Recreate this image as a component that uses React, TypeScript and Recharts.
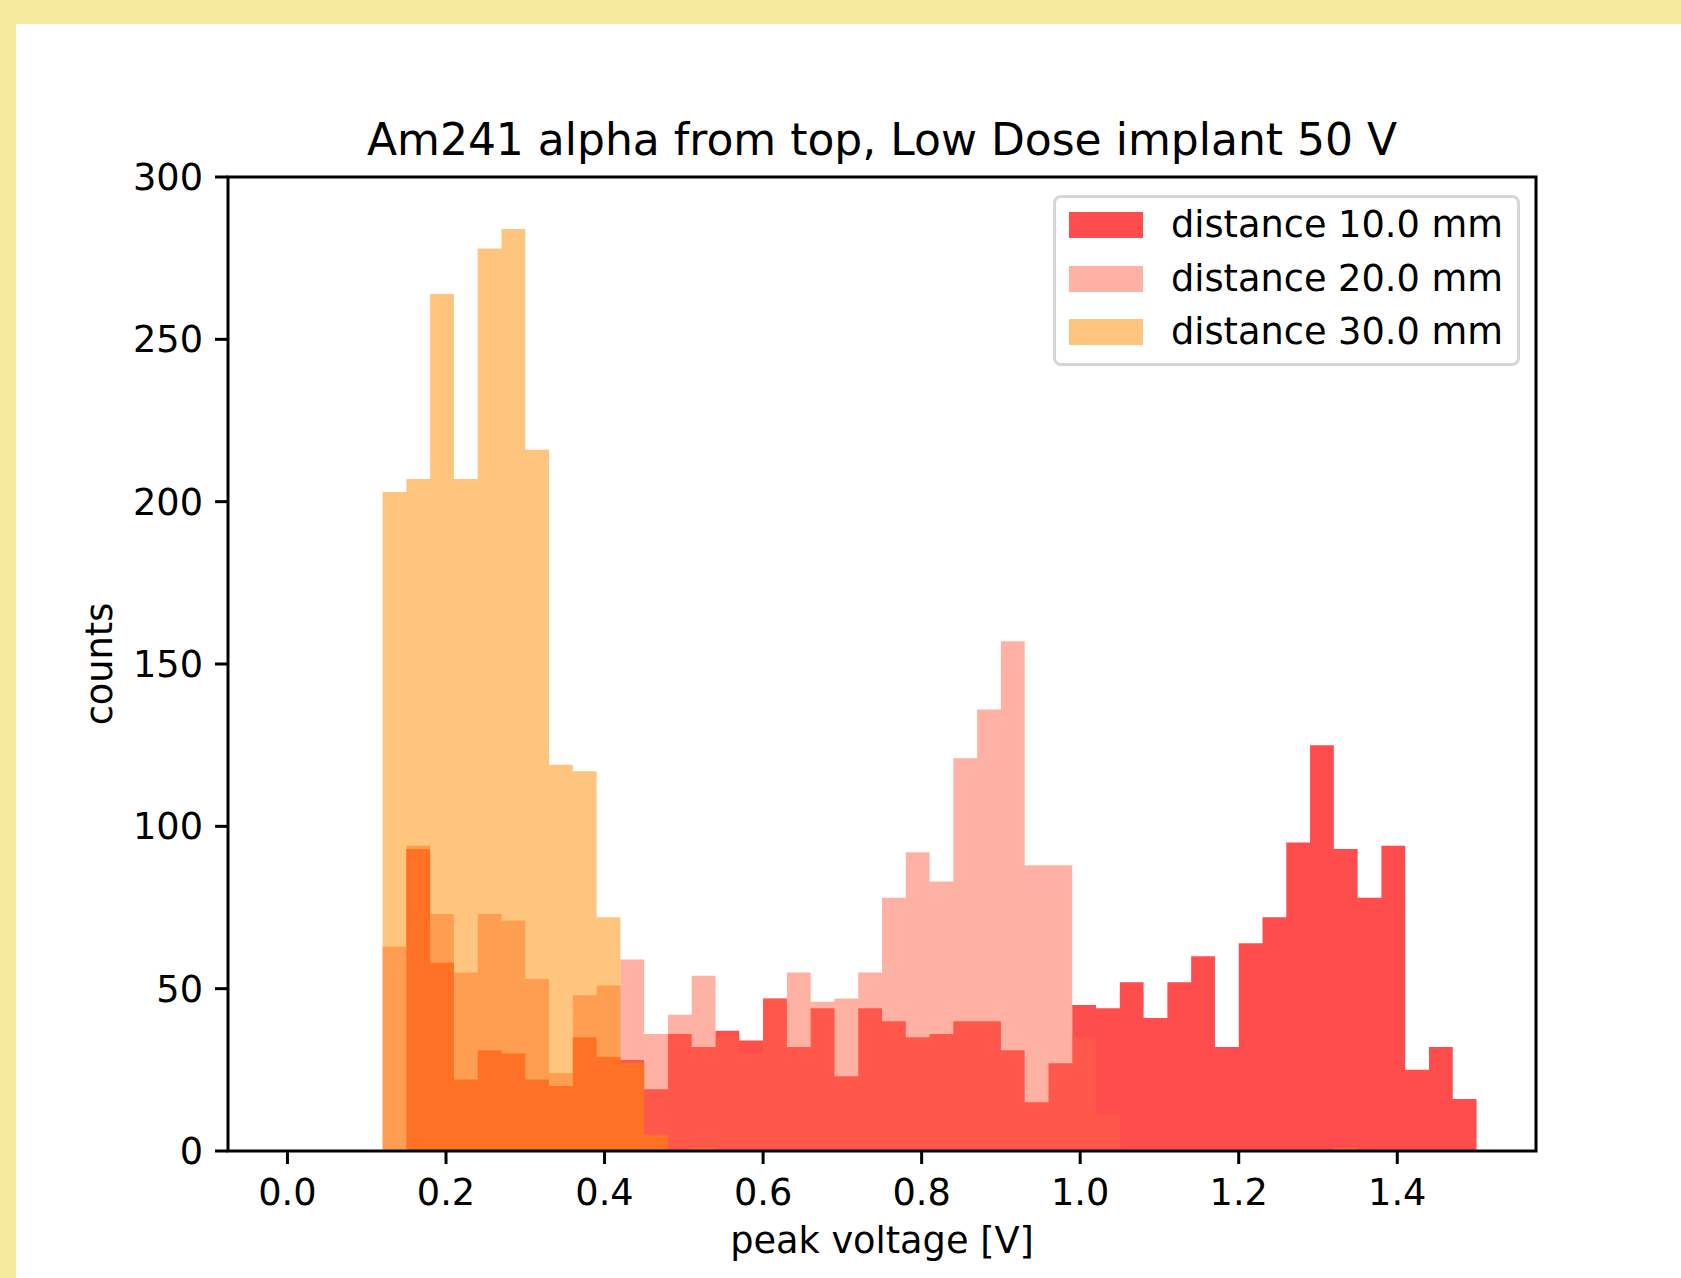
import { AreaChart, Area, XAxis, YAxis, ReferenceArea, Legend } from 'recharts'

// histogram bin edges [V], 50 bins of 0.03 V
const BIN_EDGES = [
  0.0, 0.03, 0.06, 0.09, 0.12, 0.15, 0.18, 0.21, 0.24, 0.27,
  0.3, 0.33, 0.36, 0.39, 0.42, 0.45, 0.48, 0.51, 0.54, 0.57,
  0.6, 0.63, 0.66, 0.69, 0.72, 0.75, 0.78, 0.81, 0.84, 0.87,
  0.9, 0.93, 0.96, 0.99, 1.02, 1.05, 1.08, 1.11, 1.14, 1.17,
  1.2, 1.23, 1.26, 1.29, 1.32, 1.35, 1.38, 1.41, 1.44, 1.47,
  1.5,
]

const COUNTS_10MM = [
  0, 0, 0, 0, 0, 93, 58, 22, 31, 30,
  22, 20, 35, 29, 28, 19, 36, 32, 37, 34,
  47, 32, 44, 23, 44, 40, 35, 36, 40, 40,
  31, 15, 27, 45, 44, 52, 41, 52, 60, 32,
  64, 72, 95, 125, 93, 78, 94, 25, 32, 16,
]

const COUNTS_20MM = [
  0, 0, 0, 0, 63, 94, 73, 55, 73, 71,
  53, 24, 48, 51, 59, 36, 42, 54, 35, 30,
  47, 55, 46, 47, 55, 78, 92, 83, 121, 136,
  157, 88, 88, 35, 11, 0, 0, 0, 0, 0,
  0, 0, 0, 0, 0, 0, 0, 0, 0, 0,
]

const COUNTS_30MM = [
  0, 0, 0, 0, 203, 207, 264, 207, 278, 284,
  216, 119, 117, 72, 27, 5, 0, 1, 0, 0,
  0, 0, 0, 0, 0, 0, 0, 0, 0, 0,
  0, 0, 0, 0, 0, 0, 0, 0, 0, 0,
  0, 0, 0, 0, 1, 0, 0, 0, 0, 0,
]

const X_TICKS = [0, 0.2, 0.4, 0.6, 0.8, 1.0, 1.2, 1.4]
const Y_TICKS = [0, 50, 100, 150, 200, 250, 300]

const SERIES = [
  { key: 'd10', label: 'distance 10.0 mm', color: 'red', opacity: 0.7 },
  { key: 'd20', label: 'distance 20.0 mm', color: 'tomato', opacity: 0.5 },
  { key: 'd30', label: 'distance 30.0 mm', color: 'darkorange', opacity: 0.5 },
]

const FONT = '"DejaVu Sans", sans-serif'
const FS = 36.7

const data = BIN_EDGES.map((v, i) => ({
  v,
  d10: COUNTS_10MM[i] ?? 0,
  d20: COUNTS_20MM[i] ?? 0,
  d30: COUNTS_30MM[i] ?? 0,
}))

function LegendBox() {
  return (
    <div style={{ position: 'relative', width: 467, height: 171, fontFamily: FONT }}>
      <div
        style={{
          position: 'absolute',
          inset: 0,
          border: '3px solid #d6d6d6',
          borderRadius: 8,
          background: '#fff',
        }}
      />
      {SERIES.map((s, i) => (
        <div key={s.key}>
          <div
            style={{
              position: 'absolute',
              left: 15.5,
              top: 17 + i * 53.5,
              width: 74,
              height: 26,
              background: s.color,
              opacity: s.opacity,
            }}
          />
          <div
            style={{
              position: 'absolute',
              left: 118,
              top: 12 + i * 53.5,
              fontSize: FS,
              lineHeight: FS + 'px',
              color: '#000',
              whiteSpace: 'nowrap',
            }}
          >
            {s.label}
          </div>
        </div>
      ))}
    </div>
  )
}

export default function App() {
  return (
    <div
      style={{
        position: 'absolute',
        left: 0,
        top: 0,
        width: 1681,
        height: 1278,
        background: '#f5e99d',
        overflow: 'hidden',
        fontFamily: FONT,
      }}
    >
      <div style={{ position: 'absolute', left: 16, top: 24, right: 0, bottom: 0, background: '#fff' }} />
      <div
        style={{
          position: 'absolute',
          left: 282,
          top: 118,
          width: 1200,
          textAlign: 'center',
          fontSize: 44,
          lineHeight: '44px',
          color: '#000',
          whiteSpace: 'nowrap',
        }}
      >
        Am241 alpha from top, Low Dose implant 50 V
      </div>
      <div style={{ position: 'absolute', left: 0, top: 0 }}>
        <AreaChart
          width={1681}
          height={1278}
          data={data}
          margin={{ top: 177, right: 145, bottom: 17, left: 0 }}
        >
          <XAxis
            dataKey="v"
            type="number"
            domain={[-0.075, 1.575]}
            allowDataOverflow
            ticks={X_TICKS}
            tickFormatter={(t: number) => t.toFixed(1)}
            height={110}
            axisLine={false}
            stroke="#000"
            tickLine={{ stroke: '#000', strokeWidth: 3 }}
            tickSize={13}
            tickMargin={15}
            tick={{ fill: '#000', fontSize: FS, fontFamily: FONT }}
            label={{
              value: 'peak voltage [V]',
              position: 'insideBottom',
              offset: 8,
              fill: '#000',
              fontSize: FS,
              fontFamily: FONT,
            }}
          />
          <YAxis
            type="number"
            domain={[0, 300]}
            allowDataOverflow
            ticks={Y_TICKS}
            width={228}
            axisLine={false}
            stroke="#000"
            tickLine={{ stroke: '#000', strokeWidth: 3 }}
            tickSize={13}
            tickMargin={12}
            tick={{ fill: '#000', fontSize: FS, fontFamily: FONT }}
            label={{
              value: 'counts',
              angle: -90,
              position: 'insideLeft',
              offset: 99,
              fill: '#000',
              fontSize: FS,
              fontFamily: FONT,
              style: { textAnchor: 'middle' },
            }}
          />
          {SERIES.map(s => (
            <Area
              key={s.key}
              dataKey={s.key}
              name={s.label}
              type="stepAfter"
              fill={s.color}
              fillOpacity={s.opacity}
              stroke="none"
              dot={false}
              activeDot={false}
              isAnimationActive={false}
            />
          ))}
          <ReferenceArea
            x1={-0.075}
            x2={1.575}
            y1={0}
            y2={300}
            fill="none"
            stroke="#000"
            strokeWidth={3}
            ifOverflow="visible"
          />
          <Legend
            layout="vertical"
            align="center"
            verticalAlign="middle"
            content={() => <LegendBox />}
            wrapperStyle={{ left: 1053, top: 195, width: 467, height: 171 }}
          />
        </AreaChart>
      </div>
    </div>
  )
}
